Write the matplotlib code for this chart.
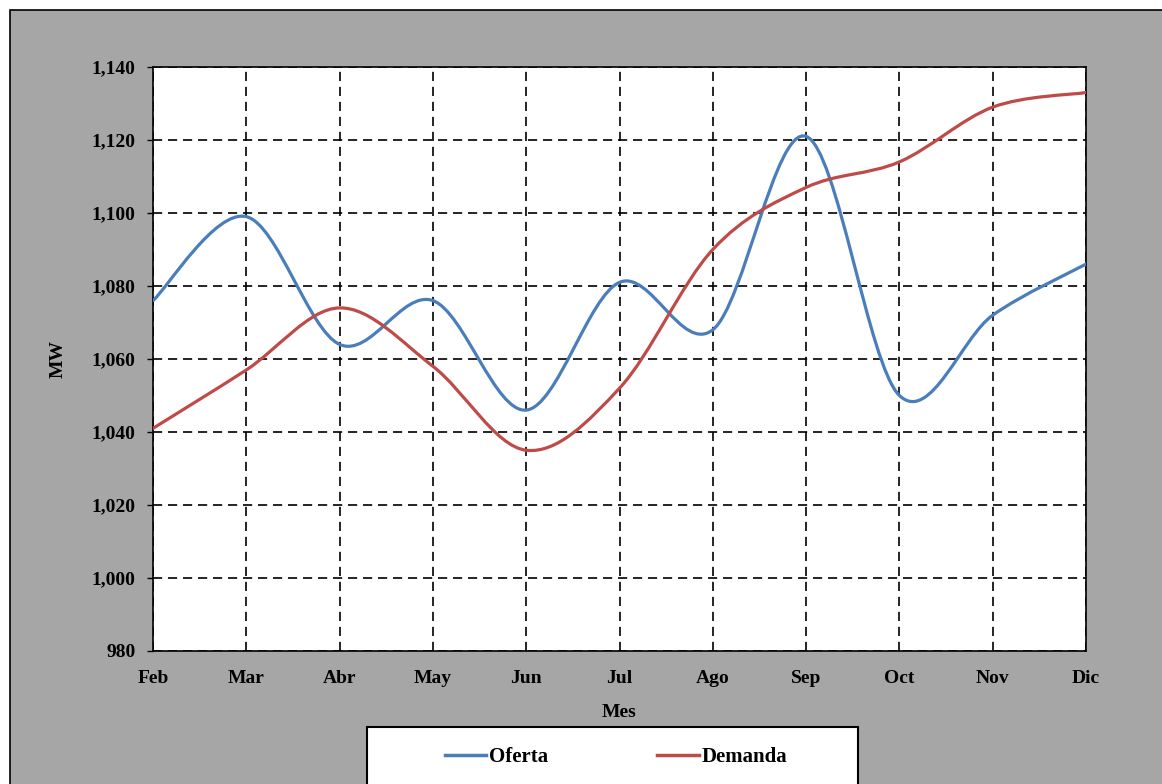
import matplotlib.pyplot as plt
import numpy as np
from matplotlib.path import Path
from matplotlib.patches import PathPatch, Rectangle
from matplotlib.lines import Line2D

months = ['Feb', 'Mar', 'Abr', 'May', 'Jun', 'Jul', 'Ago', 'Sep', 'Oct', 'Nov', 'Dic']
oferta = [1076, 1099, 1064, 1076, 1046, 1081, 1068, 1121, 1050, 1072, 1086]
demanda = [1041, 1057, 1074, 1058, 1035, 1052, 1090, 1107, 1114, 1129, 1133]
y_ticks = [980, 1000, 1020, 1040, 1060, 1080, 1100, 1120, 1140]

COLORS = {'oferta': '#4A7EBB', 'demanda': '#BE4B48', 'bg': '#A6A6A6'}
FONT = 'Liberation Serif'

W, H = 1162, 784


def smooth_path(x, y):
    # Excel-style smoothed line: Catmull-Rom segments as cubic Beziers
    pts = np.column_stack([x, y]).astype(float)
    n = len(pts)
    verts = [pts[0]]
    codes = [Path.MOVETO]
    for i in range(n - 1):
        p0 = pts[i - 1] if i > 0 else pts[i]
        p1 = pts[i]
        p2 = pts[i + 1]
        p3 = pts[i + 2] if i + 2 < n else pts[i + 1]
        c1 = p1 + (p2 - p0) / 6.0
        c2 = p2 - (p3 - p1) / 6.0
        verts += [c1, c2, p2]
        codes += [Path.CURVE4] * 3
    return Path(verts, codes)


def fx(px):
    return px / W


def fy(py):
    return 1 - py / H


fig = plt.figure(figsize=(W / 100, H / 100), dpi=100)
fig.patch.set_facecolor('white')

# grey chart area (cropped at right and bottom)
fig.patches.append(Rectangle((fx(10), fy(800)), fx(1180) - fx(10), fy(10) - fy(800),
                             transform=fig.transFigure, facecolor=COLORS['bg'],
                             edgecolor='black', linewidth=1.2, zorder=-2))

ax = fig.add_axes([fx(153), fy(651), fx(1086) - fx(153), fy(67) - fy(651)])
ax.set_facecolor('white')

x = np.arange(len(months))
for vals, key in [(oferta, 'oferta'), (demanda, 'demanda')]:
    ax.add_patch(PathPatch(smooth_path(x, vals), fill=False, edgecolor=COLORS[key],
                           linewidth=2.3, capstyle='round', joinstyle='round', zorder=3))

ax.set_xlim(0, len(months) - 1)
ax.set_ylim(y_ticks[0], y_ticks[-1])
ax.set_xticks(x)
ax.set_xticklabels(months, fontsize=14, fontweight='bold', family=FONT)
ax.set_yticks(y_ticks)
ax.set_yticklabels([f'{v:,}' for v in y_ticks], fontsize=14, fontweight='bold', family=FONT)
ax.tick_params(axis='x', length=0, pad=14)
ax.tick_params(axis='y', length=4.5, width=1, direction='out', pad=8)

ax.grid(True, color='black', linestyle=(0, (5.5, 3.5)), linewidth=1.2, zorder=1)
ax.set_axisbelow(True)
for s in ax.spines.values():
    s.set_color('black')
    s.set_linewidth(1.2)

ax.set_xlabel('Mes', fontsize=14, fontweight='bold', family=FONT, labelpad=12)
ax.set_ylabel('MW', fontsize=14, fontweight='bold', family=FONT, labelpad=18)

# legend box
fig.patches.append(Rectangle((fx(367), fy(800)), fx(858) - fx(367), fy(727) - fy(800),
                             transform=fig.transFigure, facecolor='white',
                             edgecolor='black', linewidth=1.5, zorder=-1))
handles = [Line2D([], [], color=COLORS['oferta'], lw=2.5),
           Line2D([], [], color=COLORS['demanda'], lw=2.5)]
fig.legend(handles, ['Oferta', 'Demanda'], loc='center', bbox_to_anchor=(fx(616), fy(757)),
           ncol=2, frameon=False, handlelength=2.0, handletextpad=0.15, columnspacing=5.2,
           prop={'family': FONT, 'weight': 'bold', 'size': 15})

fig.savefig('out.png', dpi=100, facecolor='white')
